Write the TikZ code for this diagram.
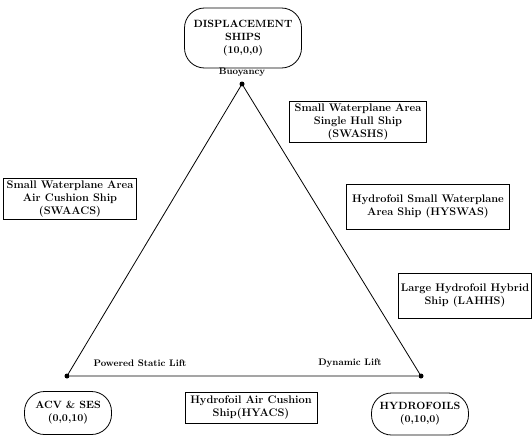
\documentclass[tikz,border=0pt]{standalone}
\tikzset{
  vdot/.style={circle,fill=black,inner sep=0pt,minimum size=5pt},
  sqbox/.style={draw,thick,align=center,inner sep=2pt,font=\bfseries\fontsize{11}{13}\selectfont},
  rbox/.style={draw,thick,rounded corners=20pt,align=center,inner sep=2pt,font=\bfseries\fontsize{10.5}{13}\selectfont},
  lbl/.style={font=\bfseries\fontsize{9.5}{11}\selectfont,inner sep=1pt},
  edge/.style={thick}
}
\begin{document}
\begin{tikzpicture}[x=1pt,y=-1pt]
\useasboundingbox (0,0) rectangle (532,436);
% vertices
\node[vdot] (T) at (242,84) {};
\node[vdot] (L) at (67,376) {};
\node[vdot] (R) at (421,376) {};
\draw[edge] (T) -- (L) -- (R) -- (T);
% vertex labels
\node[lbl] (buoy) at (242,72) {Buoyancy};
\node[lbl] (psl) at (140,363) {Powered Static Lift};
\node[lbl] (dl) at (350,363) {Dynamic Lift};
% rounded boxes
\node[rbox,minimum width=117pt,minimum height=60pt] (disp) at (243,38) {DISPLACEMENT\\SHIPS\\(10,0,0)};
\node[rbox,minimum width=87pt,minimum height=43pt] (acv) at (68,413) {ACV \& SES\\(0,0,10)};
\node[rbox,minimum width=97pt,minimum height=42pt] (hyd) at (420,414) {HYDROFOILS\\(0,10,0)};
% square boxes
\node[sqbox,minimum width=137pt,minimum height=41pt] (swashs) at (358,122) {Small Waterplane Area\\Single Hull Ship\\(SWASHS)};
\node[sqbox,minimum width=133pt,minimum height=39pt] (swaacs) at (70,199) {Small Waterplane Area\\Air Cushion Ship\\(SWAACS)};
\node[sqbox,minimum width=163pt,minimum height=45pt] (hyswas) at (428,207) {Hydrofoil Small Waterplane\\Area Ship (HYSWAS)};
\node[sqbox,minimum width=131pt,minimum height=45pt] (lahhs) at (465,296) {Large Hydrofoil Hybrid\\Ship (LAHHS)};
\node[sqbox,minimum width=132pt,minimum height=31pt] (hyacs) at (251,408) {Hydrofoil Air Cushion\\Ship(HYACS)};
\end{tikzpicture}
\end{document}
